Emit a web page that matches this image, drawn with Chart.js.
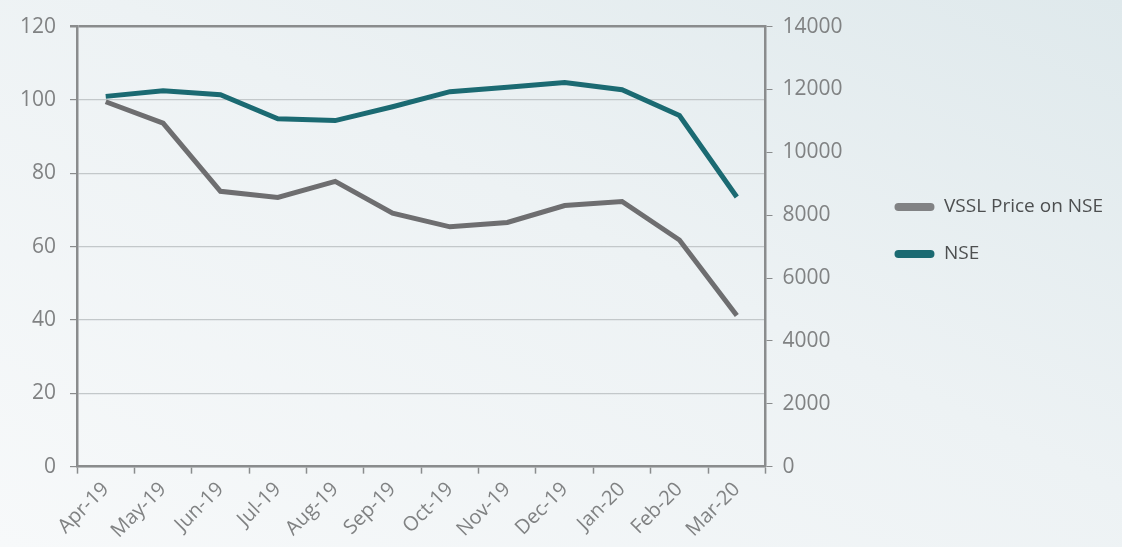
<!DOCTYPE html>
<html>
<head>
<meta charset="utf-8">
<script src="https://cdn.jsdelivr.net/npm/chart.js@4/dist/chart.umd.min.js"></script>
<style>
  html, body { margin: 0; padding: 0; overflow: hidden; }
  body {
    width: 1122px;
    height: 547px;
    background: linear-gradient(to bottom left, #dfe9ec 0%, #edf2f4 45%, #f7f9fa 100%);
  }
  #wrap { width: 1122px; height: 547px; overflow: hidden; }
</style>
</head>
<body>
<div id="wrap"><canvas id="myChart" width="1122" height="547"></canvas></div>
<script>
const months = ["Apr-19", "May-19", "Jun-19", "Jul-19", "Aug-19", "Sep-19",
  "Oct-19", "Nov-19", "Dec-19", "Jan-20", "Feb-20", "Mar-20"];
// VSSL share price (left axis)
const vsslPrice = [99.5, 93.7, 75.1, 73.4, 77.8, 69.1, 65.4, 66.6, 71.2, 72.3, 61.8, 41.2];
// NSE index (right axis)
const nseIndex = [11780, 11960, 11830, 11070, 11010, 11450, 11930, 12070, 12220, 11990, 11170, 8580];

const axisGrey = "#8a8c8d";
const gridGrey = "#c3c8ca";
const tickGrey = "#808283";
const fontFam = "'Open Sans', sans-serif";

const ctx = document.getElementById("myChart").getContext("2d");
const myChart = new Chart(ctx, {
  type: "line",
  data: {
    labels: months,
    datasets: [
      {
        label: "VSSL Price on NSE",
        data: vsslPrice,
        borderColor: "#6e6e70",
        backgroundColor: "#818284",
        borderWidth: 5,
        pointRadius: 0,
        tension: 0,
        yAxisID: "y",
      },
      {
        label: "NSE",
        data: nseIndex,
        borderColor: "#1b6a72",
        backgroundColor: "#1b6a72",
        borderWidth: 5,
        pointRadius: 0,
        tension: 0,
        yAxisID: "y1",
      },
    ],
  },
  options: {
    responsive: false,
    animation: false,
    layout: { padding: { top: 18, left: 6, right: 9, bottom: 0 } },
    plugins: {
      tooltip: { enabled: false },
      legend: {
        position: "right",
        align: "start",
        maxWidth: 320,
        title: { display: true, text: "", padding: { top: 137 } },
        labels: {
          boxWidth: 40,
          boxHeight: 8,
          useBorderRadius: true,
          borderRadius: 4,
          padding: 28,
          color: "#4d4f50",
          font: { family: fontFam, size: 19 },
          generateLabels: (chart) =>
            Chart.defaults.plugins.legend.labels.generateLabels(chart).map((l) => ({ ...l, lineWidth: 0 })),
        },
      },
    },
    scales: {
      x: {
        offset: true,
        grid: {
          offset: true,
          drawOnChartArea: false,
          drawTicks: true,
          tickLength: 7,
          tickColor: axisGrey,
          tickWidth: 1.5,
        },
        border: { display: true, color: axisGrey, width: 2.5 },
        ticks: {
          color: tickGrey,
          font: { family: fontFam, size: 20 },
          maxRotation: 45,
          minRotation: 45,
          padding: 4,
          autoSkip: false,
        },
      },
      y: {
        position: "left",
        min: 0,
        max: 120,
        ticks: {
          stepSize: 20,
          color: tickGrey,
          padding: 14,
          font: { family: fontFam, size: 21 },
        },
        grid: {
          color: (c) => (c.tick && c.tick.value === 120 ? axisGrey : gridGrey),
          lineWidth: (c) => (c.tick && c.tick.value === 120 ? 2.5 : 1.2),
          tickColor: axisGrey,
          tickLength: 7,
        },
        border: { display: true, color: axisGrey, width: 2.5 },
      },
      y1: {
        position: "right",
        min: 0,
        max: 14000,
        ticks: {
          stepSize: 2000,
          color: tickGrey,
          padding: 10,
          font: { family: fontFam, size: 21 },
          callback: (v) => String(v),
        },
        grid: {
          drawOnChartArea: false,
          tickColor: axisGrey,
          tickLength: 7,
        },
        border: { display: true, color: axisGrey, width: 2.5 },
        afterFit: (scale) => {
          scale.width = 101;
        },
      },
    },
  },
});
</script>
</body>
</html>
